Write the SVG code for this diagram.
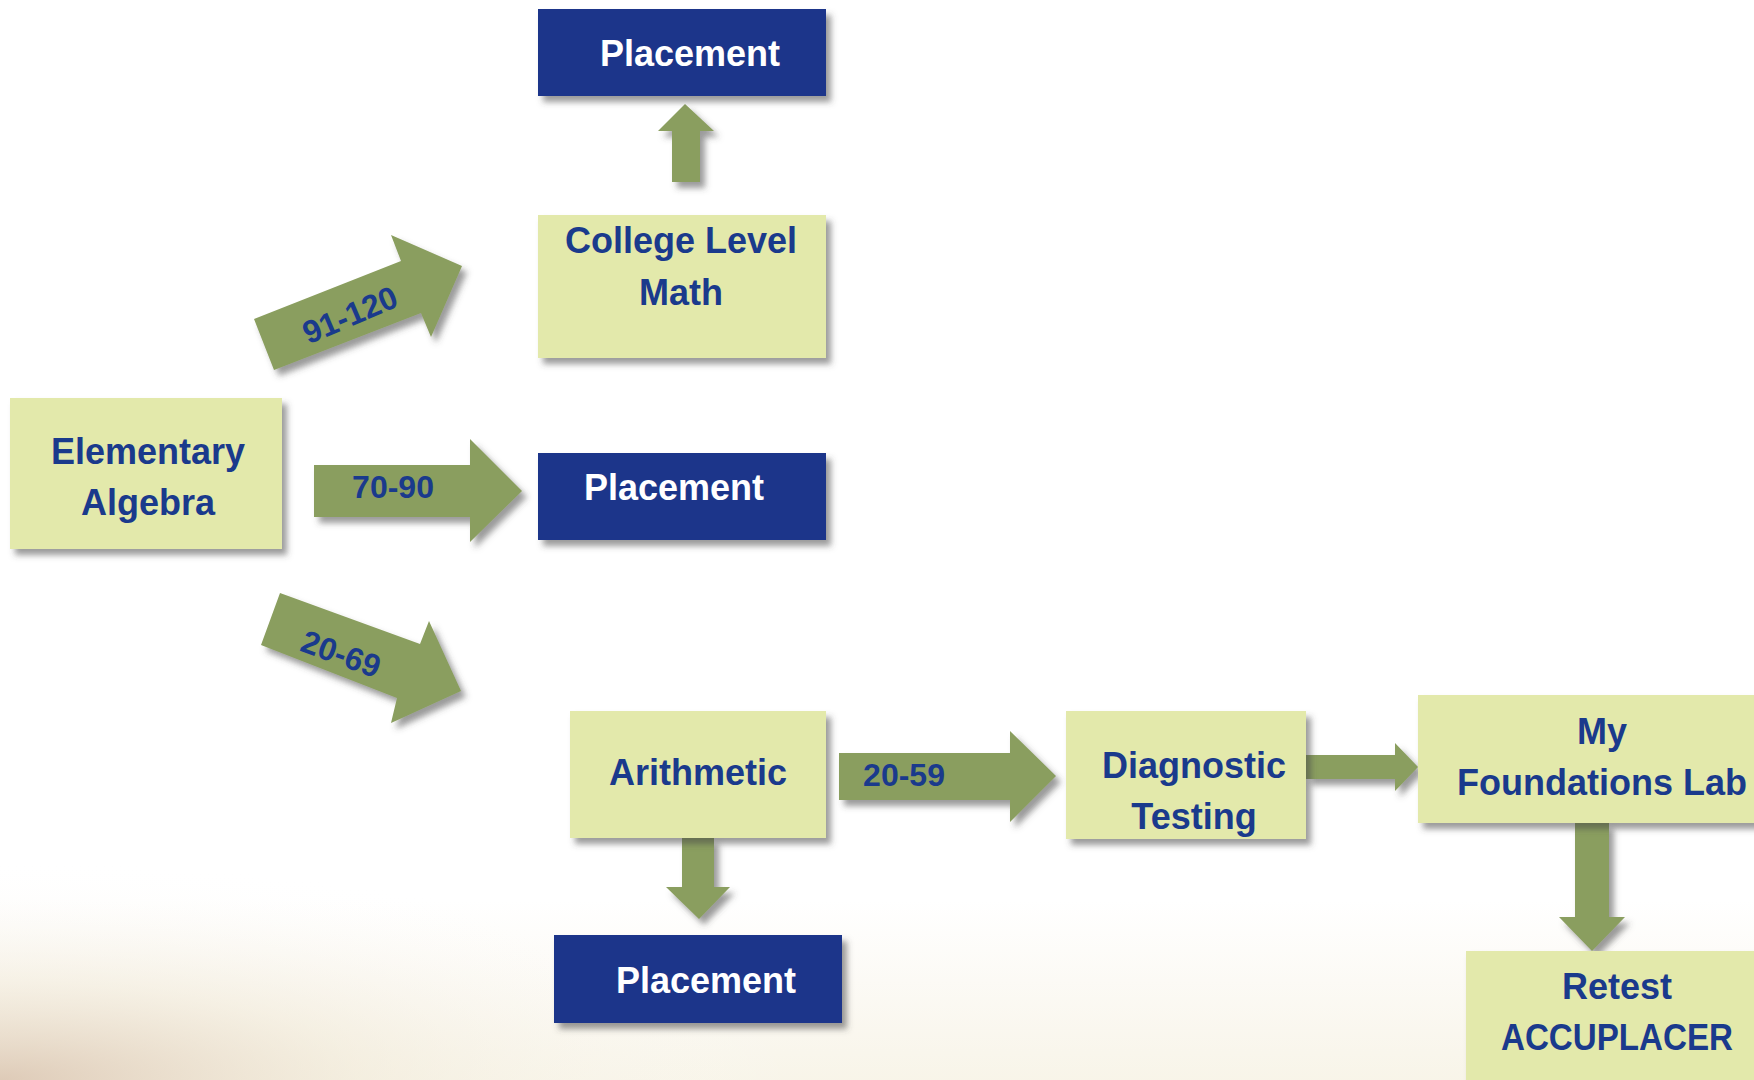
<svg xmlns="http://www.w3.org/2000/svg" width="1754" height="1080" viewBox="0 0 1754 1080">
  <defs>
    <filter id="sh" x="-20%" y="-20%" width="150%" height="150%">
      <feDropShadow dx="5" dy="6" stdDeviation="3" flood-color="#4a4a4a" flood-opacity="0.55"/>
    </filter>
    <linearGradient id="bgv" x1="0" y1="0" x2="0" y2="1">
      <stop offset="0" stop-color="#f3ead8" stop-opacity="0"/>
      <stop offset="1" stop-color="#f2ecd6" stop-opacity="0.55"/>
    </linearGradient>
    <radialGradient id="bgr" cx="0" cy="1" r="1">
      <stop offset="0" stop-color="#dbc6b2" stop-opacity="0.9"/>
      <stop offset="0.45" stop-color="#f0e8d6" stop-opacity="0.5"/>
      <stop offset="1" stop-color="#ffffff" stop-opacity="0"/>
    </radialGradient>
    <style>
      .lg { fill: #e3e9ab; filter: url(#sh); }
      .db { fill: #1a368a; filter: url(#sh); }
      .ar { fill: #8a9e5e; filter: url(#sh); }
      .t { font-family: "Liberation Sans", Arial, sans-serif; font-weight: bold; font-size: 36px; text-anchor: middle; fill: #1a3a8c; }
      .w { fill: #ffffff; }
      .lb { font-size: 32px; }
    </style>
  </defs>
  <rect width="1754" height="1080" fill="#ffffff"/>
  <rect x="0" y="900" width="1754" height="180" fill="url(#bgv)"/>
  <rect x="0" y="860" width="800" height="220" fill="url(#bgr)"/>

  <g id="connectors">
    <polygon class="ar" points="672,182 672,131 658,131 685,104 714,131 700,131 700,182"/>
    <polygon class="ar" points="274,370 254,319 401,261 391,235 462,266 431,337 421,313"/>
    <polygon class="ar" points="314,465 470,465 470,439 522,491 470,542 470,517 314,517"/>
    <polygon class="ar" points="280,593 420,644 429,621 461,691 391,723 397,698 261,645"/>
    <polygon class="ar" points="682,838 714,838 714,887 730,887 699,919 666,887 682,887"/>
    <polygon class="ar" points="839,753 1010,753 1010,731 1056,776 1010,822 1010,800 839,800"/>
    <polygon class="ar" points="1306,755 1395,755 1395,743 1418,767 1395,791 1395,779 1306,779"/>
    <polygon class="ar" points="1575,823 1609,823 1609,917 1625,917 1592,951 1559,917 1575,917"/>
    <text class="t lb" transform="translate(350,315) rotate(-23)" x="0" y="11">91-120</text>
    <text class="t lb" x="393" y="498">70-90</text>
    <text class="t lb" transform="translate(341,654) rotate(20)" x="0" y="11">20-69</text>
    <text class="t lb" x="904" y="786">20-59</text>
  </g>

  <g id="placement-top">
    <rect class="db" x="538" y="9" width="288" height="87"/>
    <text class="t w" x="690" y="66">Placement</text>
  </g>
  <g id="college-level-math">
    <rect class="lg" x="538" y="215" width="288" height="143"/>
    <text class="t" x="681" y="253">College Level</text>
    <text class="t" x="681" y="305">Math</text>
  </g>
  <g id="placement-middle">
    <rect class="db" x="538" y="453" width="288" height="87"/>
    <text class="t w" x="674" y="500">Placement</text>
  </g>
  <g id="elementary-algebra">
    <rect class="lg" x="10" y="398" width="272" height="151"/>
    <text class="t" x="148" y="464">Elementary</text>
    <text class="t" x="148" y="515">Algebra</text>
  </g>
  <g id="arithmetic">
    <rect class="lg" x="570" y="711" width="256" height="127"/>
    <text class="t" x="698" y="785">Arithmetic</text>
  </g>
  <g id="placement-bottom">
    <rect class="db" x="554" y="935" width="288" height="88"/>
    <text class="t w" x="706" y="993">Placement</text>
  </g>
  <g id="diagnostic-testing">
    <rect class="lg" x="1066" y="711" width="240" height="128"/>
    <text class="t" x="1194" y="778">Diagnostic</text>
    <text class="t" x="1194" y="829">Testing</text>
  </g>
  <g id="my-foundations-lab">
    <rect class="lg" x="1418" y="695" width="380" height="128"/>
    <text class="t" x="1602" y="744">My</text>
    <text class="t" x="1602" y="795">Foundations Lab</text>
  </g>
  <g id="retest-accuplacer">
    <rect class="lg" x="1466" y="951" width="330" height="140"/>
    <text class="t" x="1617" y="999">Retest</text>
    <text class="t" x="1617" y="1050" textLength="232" lengthAdjust="spacingAndGlyphs">ACCUPLACER</text>
  </g>
</svg>
